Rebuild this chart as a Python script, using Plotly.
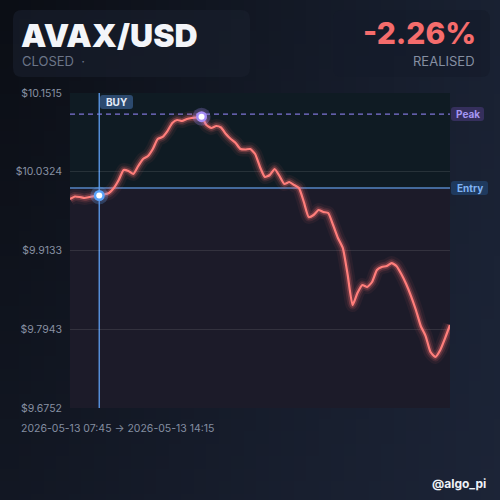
import base64
import struct
import zlib

import pandas as pd
import plotly.graph_objects as go

# ---------------- data ----------------
start_time = "2026-05-13 07:45"
end_time = "2026-05-13 14:15"
prices = [
    9.9912, 9.9950, 9.9942, 9.9927, 9.9942, 9.9957, 9.9965, 9.9980, 10.0003, 10.0078,
    10.0199, 10.0351, 10.0335, 10.0290, 10.0411, 10.0517, 10.0562, 10.0668, 10.0819, 10.0850,
    10.0940, 10.1061, 10.1107, 10.1092, 10.1122, 10.1137, 10.1145, 10.1157, 10.1031, 10.0986,
    10.1016, 10.0993, 10.0895, 10.0819, 10.0759, 10.0668, 10.0661, 10.0668, 10.0593, 10.0396,
    10.0245, 10.0275, 10.0366, 10.0260, 10.0139, 10.0169, 10.0124, 10.0078, 9.9867, 9.9640,
    9.9670, 9.9746, 9.9716, 9.9700, 9.9519, 9.9322, 9.9171, 9.8763, 9.8309, 9.8491,
    9.8612, 9.8581, 9.8657, 9.8838, 9.8884, 9.8899, 9.8944, 9.8899, 9.8778, 9.8627,
    9.8445, 9.8234, 9.7992, 9.7840, 9.7598, 9.7523, 9.7629, 9.7810, 9.8007,
]
times = list(pd.date_range(start_time, periods=len(prices), freq="5min"))
buy_index = 6
peak_index = 27
entry_price = 10.0078
peak_price = 10.1197
y_ticks = [9.6752, 9.7943, 9.9133, 10.0324, 10.1515]
y_ticktext = ["$9.6752", "$9.7943", "$9.9133", "$10.0324", "$10.1515"]
title_text = "AVAX/USD"
status_text = "CLOSED  ·"
pnl_text = "-2.26%"
pnl_label = "REALISED"
range_text = "2026-05-13 07:45 → 2026-05-13 14:15"
handle_text = "@algo_pi"

W, H = 500, 500
PX0, PX1, PY0, PY1 = 70, 450, 93, 408
FONT = "Inter, Roboto, sans-serif"


def px(x):
    return x / W


def py(y):
    return 1 - y / H


# ---------------- background gradient png ----------------
def gradient_png(w, h, tl, tr, bl, br):
    raw = b""
    for j in range(h):
        v = j / (h - 1)
        row = b"\x00"
        for i in range(w):
            u = i / (w - 1)
            c = [
                int(round((1 - u) * (1 - v) * tl[k] + u * (1 - v) * tr[k] + (1 - u) * v * bl[k] + u * v * br[k]))
                for k in range(3)
            ]
            row += bytes(c)
        raw += row

    def chunk(t, d):
        return struct.pack(">I", len(d)) + t + d + struct.pack(">I", zlib.crc32(t + d) & 0xFFFFFFFF)

    data = b"\x89PNG\r\n\x1a\n" + chunk(b"IHDR", struct.pack(">IIBBBBB", w, h, 8, 2, 0, 0, 0))
    data += chunk(b"IDAT", zlib.compress(raw)) + chunk(b"IEND", b"")
    return "data:image/png;base64," + base64.b64encode(data).decode()


bg_src = gradient_png(40, 40, (11, 14, 21), (25, 33, 50), (18, 23, 35), (28, 36, 55))

fig = go.Figure()

# glow layers for price line
line_color = "#ff6f6f"
for wdt, op in [(14, 0.06), (9, 0.12), (5.5, 0.25)]:
    fig.add_trace(go.Scatter(x=times, y=prices, mode="lines",
                             line=dict(color=line_color, width=wdt, shape="spline", smoothing=0.5),
                             opacity=op, hoverinfo="skip", showlegend=False))
fig.add_trace(go.Scatter(x=times, y=prices, mode="lines",
                         line=dict(color="#ff7e7b", width=2.2, shape="spline", smoothing=0.5),
                         hoverinfo="skip", showlegend=False))


# markers
def add_marker(i, col, glow):
    for s, c in [(18, glow), (11, col), (6, "#ffffff")]:
        fig.add_trace(go.Scatter(x=[times[i]], y=[prices[i]], mode="markers",
                                 marker=dict(size=s, color=c, line=dict(width=0)),
                                 hoverinfo="skip", showlegend=False))


add_marker(buy_index, "#5aa2f8", "rgba(90,162,248,0.25)")
add_marker(peak_index, "#a58cf5", "rgba(165,140,245,0.28)")

shapes = []


def rounded(x0, y0, x1, y1, r, fill, line=None):
    path = (f"M {px(x0 + r)} {py(y0)} L {px(x1 - r)} {py(y0)} Q {px(x1)} {py(y0)} {px(x1)} {py(y0 + r)} "
            f"L {px(x1)} {py(y1 - r)} Q {px(x1)} {py(y1)} {px(x1 - r)} {py(y1)} "
            f"L {px(x0 + r)} {py(y1)} Q {px(x0)} {py(y1)} {px(x0)} {py(y1 - r)} "
            f"L {px(x0)} {py(y0 + r)} Q {px(x0)} {py(y0)} {px(x0 + r)} {py(y0)} Z")
    return dict(type="path", path=path, xref="paper", yref="paper", fillcolor=fill,
                line=dict(width=0 if line is None else 1, color=line or "rgba(0,0,0,0)"), layer="below")


shapes.append(rounded(13, 10, 250, 77, 9, "rgba(24,30,44,0.65)"))
shapes.append(rounded(333, 10, 490, 77, 9, "rgba(20,27,42,0.6)"))

# plot region backgrounds (above / below entry)
shapes.append(dict(type="rect", xref="x domain", yref="y", x0=0, x1=1, y0=entry_price, y1=y_ticks[-1],
                   fillcolor="#0f1b23", line=dict(width=0), layer="below"))
shapes.append(dict(type="rect", xref="x domain", yref="y", x0=0, x1=1, y0=y_ticks[0], y1=entry_price,
                   fillcolor="#1c1b29", line=dict(width=0), layer="below"))

# peak dashed line, entry line, buy vertical (under the price line and markers)
shapes.append(dict(type="line", xref="x domain", yref="y", x0=0, x1=1, y0=peak_price, y1=peak_price,
                   line=dict(color="#7f74d6", width=1.3, dash="5px,4px"), layer="below"))
shapes.append(dict(type="line", xref="x domain", yref="y", x0=0, x1=1, y0=entry_price, y1=entry_price,
                   line=dict(color="#5486c4", width=1.6), layer="below"))
shapes.append(dict(type="line", xref="x", yref="y domain", x0=times[buy_index], x1=times[buy_index], y0=0, y1=1,
                   line=dict(color="#5e9ef0", width=1.3), layer="below"))

# label boxes
shapes.append(rounded(100, 95, 133, 109, 3, "#2c4a6f"))
shapes.append(rounded(451, 107, 484, 121, 3, "#352f5c"))
shapes.append(rounded(451, 181, 488, 195, 3, "#1f3a5e"))

annotations = [
    dict(x=px(19), y=py(35), text=title_text, xanchor="left", yanchor="middle", height=30,
         font=dict(family=FONT, size=32, color="#f3f5f9", weight=900)),
    dict(x=px(20), y=py(61), text=status_text, xanchor="left", yanchor="middle", height=14,
         font=dict(family=FONT, size=13, color="#6c7588")),
    dict(x=px(478), y=py(33), text=pnl_text, xanchor="right", yanchor="middle", height=28,
         font=dict(family=FONT, size=30, color="#f56c6c", weight=800)),
    dict(x=px(477), y=py(61), text=pnl_label, xanchor="right", yanchor="middle", height=14,
         font=dict(family=FONT, size=13, color="#858fa2")),
    dict(x=px(116.5), y=py(102), text="<b>BUY</b>", xanchor="center", yanchor="middle",
         font=dict(family=FONT, size=10, color="#e4ecf7")),
    dict(x=px(467.5), y=py(114), text="<b>Peak</b>", xanchor="center", yanchor="middle",
         font=dict(family=FONT, size=10, color="#a596f2")),
    dict(x=px(469.5), y=py(188), text="<b>Entry</b>", xanchor="center", yanchor="middle",
         font=dict(family=FONT, size=10, color="#80b3f2")),
    dict(x=px(19), y=py(428), text=range_text, xanchor="left", yanchor="middle",
         font=dict(family=FONT, size=10.5, color="#848ea1")),
    dict(x=px(488), y=py(483), text=f"<b>{handle_text}</b>", xanchor="right", yanchor="middle",
         font=dict(family=FONT, size=12, color="#eef1f6")),
]
for a in annotations:
    a.update(xref="paper", yref="paper", showarrow=False)

fig.update_layout(
    width=W, height=H,
    margin=dict(l=0, r=0, t=0, b=0, pad=0, autoexpand=False),
    paper_bgcolor="#141a28",
    plot_bgcolor="rgba(0,0,0,0)",
    shapes=shapes,
    annotations=annotations,
    images=[dict(source=bg_src, xref="paper", yref="paper", x=0, y=1, sizex=1, sizey=1,
                 sizing="stretch", xanchor="left", yanchor="top", layer="below")],
    xaxis=dict(domain=[px(PX0), px(PX1)], range=[start_time, end_time], showticklabels=False,
               showgrid=False, zeroline=False, showline=False, fixedrange=True, automargin=False),
    yaxis=dict(domain=[py(PY1), py(PY0)], range=[y_ticks[0], y_ticks[-1]], tickvals=y_ticks,
               ticktext=y_ticktext, showgrid=True, gridcolor="rgba(255,255,255,0.10)", gridwidth=1,
               zeroline=False, showline=False, ticks="", ticklabelstandoff=7, automargin=False,
               tickfont=dict(family=FONT, size=10.5, color="#8891a3")),
    showlegend=False,
)

fig.write_html("out.html", config={"displayModeBar": False})
